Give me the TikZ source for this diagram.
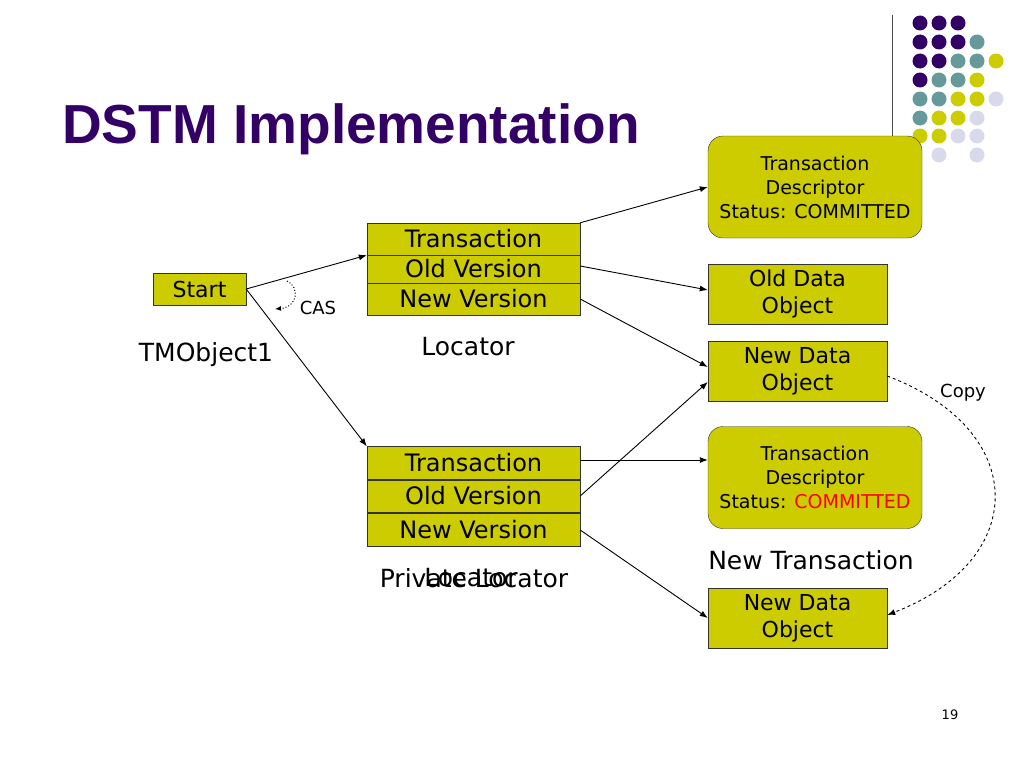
\documentclass[tikz,border=0pt]{standalone}
\usepackage{fontspec}
\setmainfont{DejaVu Sans}
\newfontfamily\titlefont{Liberation Sans}
\usetikzlibrary{arrows.meta}
\definecolor{boxolive}{RGB}{204,204,0}
\definecolor{titlepurple}{RGB}{51,0,102}
\definecolor{dotteal}{RGB}{102,153,153}
\definecolor{dotlilac}{RGB}{217,217,236}
\tikzset{
  slot/.style={draw=black!80, fill=boxolive, minimum width=213pt, inner sep=0pt, font=\fontsize{24}{28}\selectfont},
  databox/.style={draw=black!80, fill=boxolive, minimum width=179pt, minimum height=60pt, inner sep=0pt, align=center, font=\fontsize{22}{27}\selectfont},
  descbox/.style={databox, rounded corners=15pt, minimum width=214pt, minimum height=102pt, font=\fontsize{19}{24}\selectfont},
  lbl/.style={inner sep=0pt, font=\fontsize{25}{30}\selectfont},
  small/.style={inner sep=0pt, font=\fontsize{18}{22}\selectfont},
  ptr/.style={-{Latex[length=8pt,width=6pt]}, line width=0.9pt},
}

\begin{document}
\begin{tikzpicture}[x=1pt, y=-1pt]
			%%%%% START %%%%%
			\useasboundingbox (0, 0) rectangle (1024, 768);
			
			\node[anchor=base west, inner sep=0pt, text=titlepurple, font=\titlefont\bfseries\fontsize{55}{60}\selectfont] (title) at (62, 143) {DSTM Implementation};
			
			% corner dots
			\fill[titlepurple] (920, 23) circle (7.5pt);
			\fill[titlepurple] (939, 23) circle (7.5pt);
			\fill[titlepurple] (958, 23) circle (7.5pt);
			\fill[titlepurple] (920, 42) circle (7.5pt);
			\fill[titlepurple] (939, 42) circle (7.5pt);
			\fill[titlepurple] (958, 42) circle (7.5pt);
			\fill[dotteal] (977, 42) circle (7.5pt);
			\fill[titlepurple] (920, 61) circle (7.5pt);
			\fill[titlepurple] (939, 61) circle (7.5pt);
			\fill[dotteal] (958, 61) circle (7.5pt);
			\fill[dotteal] (977, 61) circle (7.5pt);
			\fill[boxolive] (996, 61) circle (7.5pt);
			\fill[titlepurple] (920, 80) circle (7.5pt);
			\fill[dotteal] (939, 80) circle (7.5pt);
			\fill[dotteal] (958, 80) circle (7.5pt);
			\fill[boxolive] (977, 80) circle (7.5pt);
			\fill[dotteal] (920, 99) circle (7.5pt);
			\fill[dotteal] (939, 99) circle (7.5pt);
			\fill[boxolive] (958, 99) circle (7.5pt);
			\fill[boxolive] (977, 99) circle (7.5pt);
			\fill[dotlilac] (996, 99) circle (7.5pt);
			\fill[dotteal] (920, 118) circle (7.5pt);
			\fill[boxolive] (939, 118) circle (7.5pt);
			\fill[boxolive] (958, 118) circle (7.5pt);
			\fill[dotlilac] (977, 118) circle (7.5pt);
			\fill[boxolive] (920, 136) circle (7.5pt);
			\fill[boxolive] (939, 136) circle (7.5pt);
			\fill[dotlilac] (958, 136) circle (7.5pt);
			\fill[dotlilac] (977, 136) circle (7.5pt);
			\fill[dotlilac] (939, 155) circle (7.5pt);
			\fill[dotlilac] (977, 155) circle (7.5pt);
			\draw[line width=0.8pt, black!70] (892, 15) -- (892, 136);
			
			% TMObject1
			\node[draw=black!80, fill=boxolive, minimum width=93pt, minimum height=32pt, inner sep=0pt, font=\fontsize{22}{26}\selectfont] (start) at (199.5, 289) {Start};
			\node[lbl] (tmobj) at (206, 355) {TMObject1};
			
			% locator
			\node[slot, minimum height=32pt] (lTx) at (473.5, 239) {Transaction};
			\node[slot, minimum height=28pt] (lOld) at (473.5, 269) {Old Version};
			\node[slot, minimum height=32pt] (lNew) at (473.5, 299) {New Version};
			\node[lbl] (loc) at (468, 347) {Locator};
			
			% private locator
			\node[slot, minimum height=33pt] (pTx) at (473.5, 463) {Transaction};
			\node[slot, minimum height=32pt] (pOld) at (473.5, 496) {Old Version};
			\node[slot, minimum height=33pt] (pNew) at (473.5, 530) {New Version};
			\node[lbl] (privloc) at (474, 578) {Private Locator};
			\node[lbl] (privloc2) at (471, 578) {Locator};
			
			% right column
			\node[descbox] (td1) at (815, 187) {Transaction\\Descriptor\\Status: COMMITTED};
			\node[databox] (odo) at (797.5, 294) {Old Data\\Object};
			\node[databox] (ndo1) at (797.5, 371) {New Data\\Object};
			\node[descbox] (td2) at (815, 477.5) {Transaction\\Descriptor\\Status: \textcolor{red}{COMMITTED}};
			\node[lbl] (newtx) at (811, 560) {New Transaction};
			\node[databox] (ndo2) at (797.5, 618) {New Data\\Object};
			
			% pointers
			\draw[ptr] (start.east) -- (lTx.south west);
			\draw[ptr] (start.east) -- (pTx.north west);
			\coordinate (casA) at (287, 281);
			\coordinate (casB) at (275, 309);
			\draw[dotted, line width=1pt, -{Latex[length=6pt,width=5pt]}] (casA) .. controls (300, 287) and (298, 307) .. (casB);
			\node[small] (cas) at (318, 308) {CAS};
			
			\draw[ptr] (lTx.north east) -- (td1.west);
			\draw[ptr] ([yshift=3pt]lOld.east) -- ([yshift=4pt]odo.west);
			\draw[ptr] (lNew.east) -- ([yshift=4pt]ndo1.west);
			\draw[ptr] (pOld.east) -- ([yshift=-11pt]ndo1.west);
			\draw[ptr] ([yshift=3pt]pTx.east) -- ([yshift=3pt]pTx.east -| td2.west);
			\draw[ptr] (pNew.east) -- (ndo2.west);
			
			\draw[dashed, line width=0.9pt, -{Latex[length=8pt,width=6pt]}] ([yshift=-5pt]ndo1.east) .. controls (1030, 430) and (1030, 560) .. ([yshift=3pt]ndo2.east);
			\node[small] (copy) at (963, 393) {Copy};
			
			\node[inner sep=0pt, font=\fontsize{13}{15}\selectfont] (pageno) at (950, 715) {19};
			%%%%% END %%%%%
\end{tikzpicture}
\end{document}
